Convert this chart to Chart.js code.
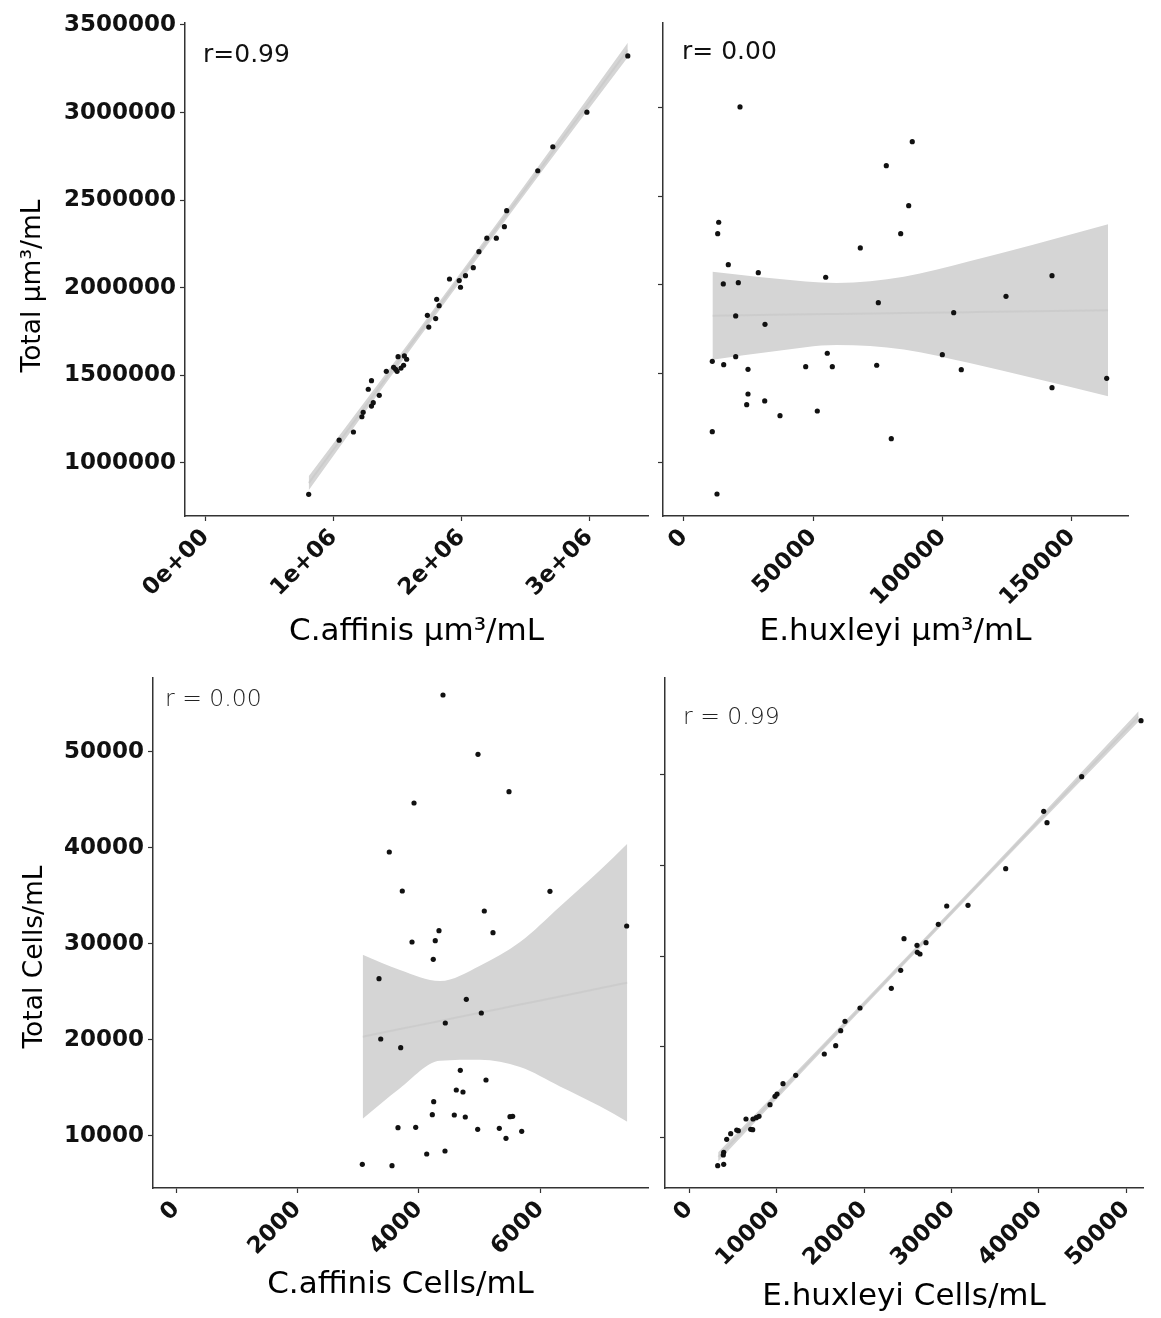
<!DOCTYPE html>
<html>
<head>
    <title>Total vs species biovolume and cell counts</title>
    <script src="https://cdn.jsdelivr.net/npm/chart.js"></script>
    <style>
        body { margin: 0; background: #fff; overflow: hidden; }
        .panel { position: absolute; }
    </style>
</head>
<body>
    <div class="panel" style="left:0;top:0;width:655px;height:660px"><canvas id="p1"></canvas></div>
    <div class="panel" style="left:655px;top:0;width:506px;height:660px"><canvas id="p2"></canvas></div>
    <div class="panel" style="left:0;top:660px;width:655px;height:658px"><canvas id="p3"></canvas></div>
    <div class="panel" style="left:655px;top:660px;width:506px;height:658px"><canvas id="p4"></canvas></div>

    <script>
        // C.affinis um3/mL vs total um3/mL
        const caVolX = [805000, 1043000, 1155000, 1221000, 1231000, 1271000, 1296000, 1296000, 1310000, 1357000,
            1412000, 1469000, 1485000, 1496000, 1504000, 1527000, 1547000, 1553000, 1571000, 1744000,
            1733000, 1798000, 1806000, 1825000, 1906000, 1982000, 1992000, 2031000, 2092000, 2136000,
            2198000, 2272000, 2335000, 2353000, 2596000, 2714000, 2980000, 3300000];
        const caVolY = [821000, 1130000, 1177000, 1264000, 1289000, 1421000, 1470000, 1325000, 1344000, 1386000,
            1523000, 1546000, 1535000, 1523000, 1607000, 1542000, 1558000, 1611000, 1592000, 1776000,
            1843000, 1824000, 1934000, 1898000, 2050000, 2041000, 2003000, 2069000, 2115000, 2206000,
            2283000, 2283000, 2349000, 2440000, 2668000, 2805000, 3002000, 3323000];
        const caVolBandX = [805000, 1400000, 2000000, 2600000, 3300000];
        const caVolFit = [884800, 1474400, 2069000, 2663600, 3357300];
        const caVolLow = [845000, 1446000, 2045000, 2636000, 3315000];
        const caVolHigh = [925000, 1502000, 2093000, 2692000, 3399000];

        // E.huxleyi um3/mL vs total um3/mL
        const ehVolX = [21660, 88280, 78230, 86890, 13420, 13030, 83800, 68180, 17130, 28730,
            54800, 142310, 15200, 21000, 124520, 75140, 104290, 19990, 31320, 55410,
            99890, 10940, 19990, 15350, 24750, 47060, 57350, 74520, 107230, 163460,
            142310, 24750, 24250, 31210, 37120, 51550, 10940, 80160, 12760];
        const ehVolY = [3002000, 2806600, 2671300, 2445900, 2352300, 2288000, 2288000, 2207500, 2113300, 2068200,
            2042300, 2051300, 2004600, 2011900, 1935200, 1899200, 1842800, 1824200, 1777400, 1614000,
            1606100, 1568900, 1594800, 1549700, 1523800, 1538500, 1538500, 1546400, 1521600, 1473100,
            1420100, 1384600, 1324300, 1345200, 1262300, 1288800, 1172100, 1132700, 821000];
        const ehVolBandX = [11000, 35000, 59000, 85000, 110000, 135000, 164000];
        const ehVolFit = [1826000, 1830700, 1835400, 1840500, 1845400, 1850300, 1856000];
        const ehVolLow = [1578000, 1625800, 1660600, 1635700, 1559900, 1474700, 1371300];
        const ehVolHigh = [2074000, 2035600, 2010200, 2045400, 2130900, 2226000, 2340700];

        // C.affinis cells/mL vs total cells/mL
        const caCellX = [4395, 4971, 5482, 3918, 3511, 3725, 6156, 5075, 7419, 4329,
            5218, 3885, 4268, 4235, 3342, 4779, 5026, 4433, 3370, 3699,
            4680, 5103, 4614, 4724, 4242, 4219, 4581, 4762, 5498, 5542,
            3654, 3946, 4966, 5322, 5691, 5432, 4127, 4428, 3067, 3556];
        const caCellY = [55938, 49760, 45864, 44687, 39583, 35520, 35489, 33437, 31874, 31385,
            31176, 30208, 30344, 28405, 26385, 24239, 22812, 21770, 20103, 19197,
            16843, 15832, 14791, 14583, 13572, 12218, 12187, 11979, 12010, 12052,
            10864, 10906, 10697, 10802, 10489, 9760, 8124, 8437, 7050, 6905];
        const caCellBandX = [3073, 3687, 4346, 5004, 5663, 6321, 6979, 7429];
        const caCellFit = [20343, 21136, 21987, 22837, 23688, 24538, 25387, 25968];
        const caCellLow = [11801, 14976, 17837, 17937, 17178, 15163, 13097, 11488];
        const caCellHigh = [28885, 27296, 26137, 27737, 30198, 33913, 37677, 40448];

        // E.huxleyi cells/mL vs total cells/mL
        const ehCellX = [51674, 44891, 40543, 40921, 36196, 31883, 29447, 28486, 24562, 27078,
            26049, 26083, 26392, 24184, 23109, 19528, 17812, 17320, 16748, 15444,
            12172, 10719, 10033, 9804, 9232, 7974, 7665, 7287, 6486, 7024,
            7253, 5606, 5423, 4736, 4279, 3935, 3890, 3935, 3249];
        const ehCellY = [55944, 49773, 45960, 44704, 39634, 35601, 35524, 33507, 31920, 31480,
            31193, 30422, 30234, 28438, 26454, 24284, 22818, 21782, 20129, 19214,
            16867, 15941, 14806, 14553, 13627, 12349, 12195, 12051, 12051, 10916,
            10872, 10762, 10839, 10431, 9814, 8382, 8084, 7059, 6905];
        const ehCellBandX = [3300, 15000, 27000, 39000, 51400];
        const ehCellFit = [7880, 19685, 31793, 43901, 56413];
        const ehCellLow = [7380, 19345, 31493, 43561, 55853];
        const ehCellHigh = [8380, 20025, 32093, 44241, 56973];

        // axis ticks
        const volYTicks = [1000000, 1500000, 2000000, 2500000, 3000000, 3500000];
        const caVolXTicks = [0, 1000000, 2000000, 3000000];
        const caVolXLabels = ['0e+00', '1e+06', '2e+06', '3e+06'];
        const ehVolXTicks = [0, 50000, 100000, 150000];
        const cellYTicks = [10000, 20000, 30000, 40000, 50000];
        const caCellXTicks = [0, 2000, 4000, 6000];
        const ehCellXTicks = [0, 10000, 20000, 30000, 40000, 50000];

        const tickFont = { family: 'DejaVu Sans', size: 23, weight: 'bold' };
        const titleFont = { family: 'DejaVu Sans', size: 31 };
        const ink = '#111';

        // r labels and the y axis titles
        const panelText = {
            id: 'panelText',
            afterDraw(chart, args, o) {
                if (!o.r) return;
                const ctx = chart.ctx;
                ctx.save();
                ctx.fillStyle = o.color;
                ctx.font = o.font;
                ctx.textAlign = 'left';
                ctx.textBaseline = 'middle';
                ctx.fillText(o.r, o.rx, o.ry);
                if (o.yTitle) {
                    ctx.translate(o.tx, o.ty);
                    ctx.rotate(-Math.PI / 2);
                    ctx.textAlign = 'center';
                    ctx.font = '26.5px "DejaVu Sans"';
                    ctx.fillStyle = '#000';
                    ctx.fillText(o.yTitle, 0, 0);
                }
                ctx.restore();
            }
        };
        Chart.register(panelText);

        function pts(xs, ys) {
            return xs.map((x, i) => ({ x: x, y: ys[i] }));
        }

        function panel(id, o) {
            const smooth = { tension: 0.4, cubicInterpolationMode: 'monotone', pointRadius: 0 };
            return new Chart(document.getElementById(id), {
                type: 'scatter',
                data: {
                    datasets: [
                        { data: pts(o.x, o.y), backgroundColor: ink, pointRadius: 2.6, pointBorderWidth: 0, clip: false, order: 0 },
                        Object.assign({ type: 'line', data: pts(o.bandX, o.fit), borderColor: 'rgba(190,190,190,0.35)', borderWidth: 2, fill: false, order: 1 }, smooth),
                        Object.assign({ type: 'line', data: pts(o.bandX, o.low), borderColor: 'rgba(0,0,0,0)', borderWidth: 0, fill: false, order: 3 }, smooth),
                        Object.assign({ type: 'line', data: pts(o.bandX, o.high), borderColor: 'rgba(0,0,0,0)', borderWidth: 0, fill: 2, backgroundColor: '#d5d5d5', order: 2 }, smooth)
                    ]
                },
                options: {
                    animation: false,
                    responsive: true,
                    maintainAspectRatio: false,
                    layout: { padding: o.pad },
                    plugins: {
                        legend: { display: false },
                        tooltip: { enabled: false },
                        panelText: o.text
                    },
                    scales: {
                        x: {
                            type: 'linear',
                            min: o.xMin,
                            max: o.xMax,
                            afterBuildTicks: s => { s.ticks = o.xTicks.map(v => ({ value: v })); },
                            afterFit: s => { s.height = o.xAxisH; },
                            ticks: {
                                autoSkip: false, minRotation: 45, maxRotation: 45, padding: 3,
                                color: ink, font: tickFont,
                                callback: (v, i) => o.xLabels ? o.xLabels[i] : String(v)
                            },
                            grid: { drawOnChartArea: false, tickLength: 5, color: '#333', tickWidth: 1.2 },
                            border: { color: '#333', width: 1.5 },
                            title: { display: true, text: o.xTitle, font: titleFont, color: '#000', padding: { top: 0, bottom: o.xTitlePad } }
                        },
                        y: {
                            type: 'linear',
                            min: o.yMin,
                            max: o.yMax,
                            afterBuildTicks: s => { s.ticks = o.yTicks.map(v => ({ value: v })); },
                            afterFit: s => { s.width = o.yAxisW; },
                            ticks: {
                                padding: 4, color: ink, font: tickFont,
                                callback: v => o.yLabels ? String(v) : ''
                            },
                            grid: { drawOnChartArea: false, tickLength: 5, color: '#333', tickWidth: 1.2 },
                            border: { color: '#333', width: 1.5 }
                        }
                    }
                }
            });
        }

        panel('p1', {
            x: caVolX, y: caVolY, bandX: caVolBandX, fit: caVolFit, low: caVolLow, high: caVolHigh,
            pad: { left: 0, top: 22.5, right: 7, bottom: 0 },
            xMin: -162000, xMax: 3458000, yMin: 697500, yMax: 3514000,
            xTicks: caVolXTicks, xLabels: caVolXLabels, yTicks: volYTicks, yLabels: true,
            yAxisW: 185, xAxisH: 144, xTitle: 'C.affinis µm³/mL', xTitlePad: 9.4,
            text: { r: 'r=0.99', rx: 203, ry: 55, font: '25px "DejaVu Sans"', color: '#111',
                yTitle: 'Total µm³/mL', tx: 33, ty: 286 }
        });

        panel('p2', {
            x: ehVolX, y: ehVolY, bandX: ehVolBandX, fit: ehVolFit, low: ehVolLow, high: ehVolHigh,
            pad: { left: 0, top: 22.5, right: 33, bottom: 0 },
            xMin: -8120, xMax: 171700, yMin: 697000, yMax: 3478000,
            xTicks: ehVolXTicks, yTicks: volYTicks.slice(0, 5), yLabels: false,
            yAxisW: 8, xAxisH: 144, xTitle: 'E.huxleyi µm³/mL', xTitlePad: 9.4,
            text: { r: 'r= 0.00', rx: 27, ry: 52, font: '25px "DejaVu Sans"', color: '#111' }
        });

        panel('p3', {
            x: caCellX, y: caCellY, bandX: caCellBandX, fit: caCellFit, low: caCellLow, high: caCellHigh,
            pad: { left: 0, top: 18, right: 7, bottom: 0 },
            xMin: -379, xMax: 7770, yMin: 4582, yMax: 57708,
            xTicks: caCellXTicks, yTicks: cellYTicks, yLabels: true,
            yAxisW: 153, xAxisH: 130, xTitle: 'C.affinis Cells/mL', xTitlePad: 14.4,
            text: { r: 'r = 0.00', rx: 165, ry: 40, font: '200 23.5px "DejaVu Sans"', color: '#222',
                yTitle: 'Total Cells/mL', tx: 35, ty: 297 }
        });

        panel('p4', {
            x: ehCellX, y: ehCellY, bandX: ehCellBandX, fit: ehCellFit, low: ehCellLow, high: ehCellHigh,
            pad: { left: 0, top: 18, right: 18, bottom: 0 },
            xMin: -2780, xMax: 51903, yMin: 4448, yMax: 60650,
            xTicks: ehCellXTicks, yTicks: cellYTicks, yLabels: false,
            yAxisW: 10, xAxisH: 130, xTitle: 'E.huxleyi Cells/mL', xTitlePad: 2.4,
            text: { r: 'r = 0.99', rx: 28, ry: 58, font: '200 23.5px "DejaVu Sans"', color: '#222' }
        });
    </script>
</body>
</html>
